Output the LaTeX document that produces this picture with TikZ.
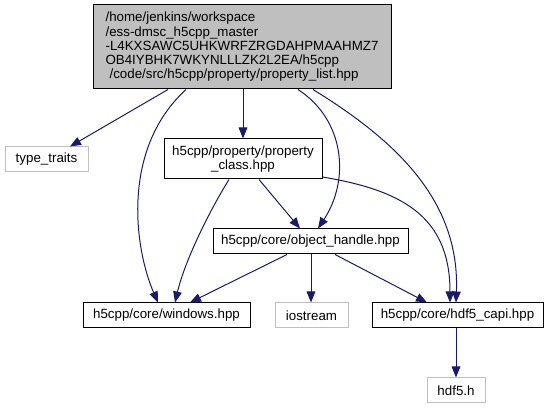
\documentclass[tikz,border=0pt]{standalone}
\usepackage{fontspec}
\setmainfont{Liberation Sans}
\usetikzlibrary{arrows.meta}
\definecolor{edgecol}{HTML}{191970}
\definecolor{graybd}{HTML}{BFBFBF}
\tikzset{
  nbox/.style={draw=black, line width=0.75pt, fill=white, inner sep=0pt, align=center, minimum height=18.75pt},
  extbox/.style={draw=graybd, line width=0.75pt, fill=white, inner sep=0pt, align=center, minimum height=18.75pt},
  rootbox/.style={draw=black, line width=0.75pt, fill=graybd, inner sep=0pt, align=left},
  dep/.style={draw=edgecol, line width=0.75pt, -{Triangle[length=8.25pt,width=6.5pt]}},
}
\begin{document}
\begin{tikzpicture}[x=0.75pt,y=-0.75pt, font=\fontsize{10}{10.7}\selectfont]
\useasboundingbox (0,0) rectangle (547,409);
\node[rootbox, minimum width=223.5pt, minimum height=63pt] (root) at (242,47)
  {/home/jenkins/workspace\\/ess-dmsc\_h5cpp\_master\\-L4KXSAWC5UHKWRFZRGDAHPMAAHMZ7\\OB4IYBHK7WKYNLLLZK2L2EA/h5cpp\\\hspace*{0.3em}/code/src/h5cpp/property/property\_list.hpp};
\node[extbox, minimum width=62.25pt] (tt) at (46.5,159.5) {type\_traits};
\node[nbox, minimum width=118.5pt, minimum height=30pt] (pc) at (243,159) {h5cpp/property/property\\\_class.hpp};
\node[nbox, minimum width=146.25pt] (oh) at (310.5,241.5) {h5cpp/core/object\_handle.hpp};
\node[nbox, minimum width=125.25pt] (win) at (166.5,315.5) {h5cpp/core/windows.hpp};
\node[extbox, minimum width=54.75pt] (ios) at (311.5,315.5) {iostream};
\node[nbox, minimum width=128.25pt] (capi) at (457.5,315.5) {h5cpp/core/hdf5\_capi.hpp};
\node[extbox, minimum width=43.5pt] (h5) at (456,390.5) {hdf5.h};

\draw[dep] (168,0 |- root.south) -- (70,0 |- tt.north);
\draw[dep] (186,0 |- root.south) .. controls (120,150) and (135,250) .. (158,0 |- win.north);
\draw[dep] (pc.north |- root.south) -- (pc.north);
\draw[dep] (298,0 |- root.south) .. controls (345,120) and (350,180) .. (318,0 |- oh.north);
\draw[dep] (313,0 |- root.south) .. controls (395,140) and (460,200) .. (456,0 |- capi.north);
\draw[dep] (229,0 |- pc.south) .. controls (210,210) and (185,260) .. (175,0 |- win.north);
\draw[dep] (259,0 |- pc.south) -- (300,0 |- oh.north);
\draw[dep] (pc.east |- 0,177) .. controls (400,190) and (450,215) .. (450,0 |- capi.north);
\draw[dep] (287,0 |- oh.south) -- (190,0 |- win.north);
\draw[dep] (311,0 |- oh.south) -- (311,0 |- ios.north);
\draw[dep] (335,0 |- oh.south) -- (427,0 |- capi.north);
\draw[dep] (456,0 |- capi.south) -- (456,0 |- h5.north);
\end{tikzpicture}
\end{document}
